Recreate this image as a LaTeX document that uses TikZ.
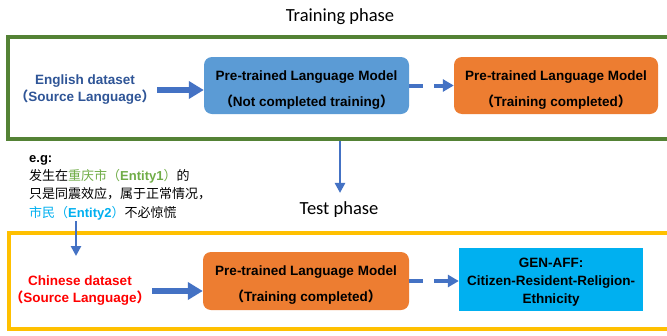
\documentclass[tikz,border=0pt]{standalone}
\usepackage{fontspec}
\setmainfont{Liberation Sans}
\newfontfamily\cjk{Noto Sans CJK SC}
\newfontfamily\calfont{Carlito}
\usetikzlibrary{arrows.meta,calc}
\definecolor{frameG}{HTML}{548235}
\definecolor{frameY}{HTML}{FFC000}
\definecolor{arrowB}{HTML}{4472C4}
\definecolor{boxB}{HTML}{5B9BD5}
\definecolor{boxO}{HTML}{ED7D31}
\definecolor{boxC}{HTML}{00B0F0}
\definecolor{engB}{HTML}{2F5597}
\definecolor{entG}{HTML}{70AD47}
\definecolor{entB}{HTML}{00B0F0}
\begin{document}
\begin{tikzpicture}[x=1pt,y=-1pt,
  phase/.style={inner sep=0pt,anchor=base,font=\calfont\fontsize{18.5}{22}\selectfont},
  rbox/.style={rounded corners=8pt,inner sep=0pt},
  sbox/.style={inner sep=0pt},
  boxtext/.style={inner sep=0pt,align=center,font=\fontsize{13.5}{26}\selectfont\bfseries},
  gentext/.style={inner sep=0pt,align=center,font=\fontsize{13.5}{18}\selectfont\bfseries},
  dslabel/.style={inner sep=0pt,align=center,font=\fontsize{13.5}{17}\selectfont\bfseries},
  extext/.style={inner sep=0pt,anchor=base west,font=\fontsize{13}{18}\selectfont},
  fat/.style={line width=6pt,draw=arrowB,-{Triangle[length=15pt,width=17pt]}},
  dsh/.style={line width=4pt,draw=arrowB,dash pattern=on 14pt off 11pt,-{Triangle[length=11pt,width=12pt]}},
  down/.style={line width=2.5pt,draw=arrowB,-{Triangle[length=10pt,width=10pt]}}]
\clip (0,0) rectangle (667,335);
\fill[white] (0,0) rectangle (667,335);

% frames
\draw[frameG,line width=4.2pt] (690,37) -- (8,37) -- (8,139) -- (690,139);
\draw[frameY,line width=4.2pt] (690,233) -- (9,233) -- (9,329) -- (690,329);

% phase labels
\node[phase] (train) at (340,21) {Training phase};
\node[phase] (testp) at (339,214) {Test phase};

% training row
\node[dslabel,text=engB] (eng) at (85,90) {English dataset\\{\cjk （}Source Language{\cjk ）}};
\node[rbox,fill=boxB,minimum width=205pt,minimum height=57pt] (plm1) at (306.5,85.5) {};
\node[boxtext] (plm1t) at ($(plm1.center)+(0,4.5)$) {Pre-trained Language Model\\{\cjk （}Not completed training{\cjk ）}};
\node[rbox,fill=boxO,minimum width=204pt,minimum height=57pt] (plm2) at (556,85.5) {};
\node[boxtext] (plm2t) at ($(plm2.center)+(0,4.5)$) {Pre-trained Language Model\\{\cjk （}Training completed{\cjk ）}};
\draw[fat,shorten <=2pt] (eng.east) -- (eng.east -| plm1.west);
\draw[dsh] (plm1.east) -- (plm2.west);

% example
\node[extext] (ex1) at (29,162) {\bfseries e.g:};
\node[extext] (ex2) at (29,180) {\cjk 发生在\textcolor{entG}{重庆市（{\rmfamily\bfseries Entity1}）}的};
\node[extext] (ex3) at (29,198.5) {\cjk 只是同震效应，属于正常情况，};
\node[extext] (ex4) at (29,217) {\cjk \textcolor{entB}{市民（{\rmfamily\bfseries Entity2}）}不必惊慌};

% down arrows
\coordinate (gbot) at (340,141);
\draw[down,shorten >=8pt] (gbot) -- (gbot |- testp.north);
\coordinate (exA) at (76,221);
\coordinate (exB) at (76,256);
\draw[down] (exA) -- (exB);

% test row
\node[dslabel,text=red] (zh) at (80,291) {Chinese dataset\\{\cjk （}Source Language{\cjk ）}};
\node[rbox,fill=boxO,minimum width=206pt,minimum height=58pt] (plm3) at (306,281) {};
\node[boxtext] (plm3t) at ($(plm3.center)+(0,4)$) {Pre-trained Language Model\\{\cjk （}Training completed{\cjk ）}};
\node[sbox,fill=boxC,minimum width=184pt,minimum height=63pt] (gen) at (551,279.5) {};
\node[gentext] (gent) at ($(gen.center)+(0,2.5)$) {GEN-AFF:\\Citizen-Resident-Religion-\\Ethnicity};
\draw[fat,shorten <=2pt] (zh.east) -- (zh.east -| plm3.west);
\draw[dsh] (plm3.east) -- (plm3.east -| gen.west);
\end{tikzpicture}
\end{document}
